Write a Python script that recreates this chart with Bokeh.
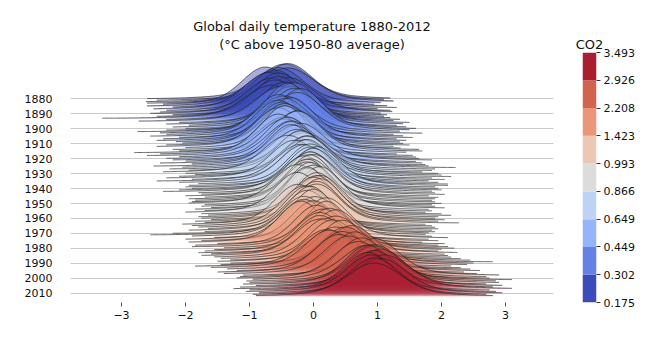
import numpy as np
from bokeh.plotting import figure
from bokeh.layouts import row
from bokeh.models import Range1d, FixedTicker, Title
from bokeh.embed import file_html
from bokeh.resources import INLINE

# ---------------- data ----------------
years = list(range(1880, 2013))

# location of each year's distribution (deg C above 1950-80 average)
mean = [
    -0.45, -0.40, -0.40, -0.55, -0.75, -0.65, -0.60, -0.70, -0.55, -0.40,
    -0.65, -0.55, -0.60, -0.65, -0.45, -0.50, -0.30, -0.35, -0.40, -0.30,
    -0.20, -0.25, -0.45, -0.50, -0.55, -0.45, -0.35, -0.55, -0.45, -0.50,
    -0.45, -0.45, -0.55, -0.45, -0.25, -0.25, -0.45, -0.55, -0.45, -0.40,
    -0.35, -0.20, -0.35, -0.30, -0.35, -0.25, -0.15, -0.20, -0.20, -0.40,
    -0.10, -0.10, -0.15, -0.30, -0.10, -0.20, -0.15, -0.05, 0.05, -0.05,
    0.00, -0.05, -0.10, -0.05, 0.00, -0.15, -0.05, -0.05, -0.10, -0.10,
    -0.25, -0.05, 0.00, 0.10, -0.10, -0.10, -0.25, 0.05, 0.10, 0.05,
    0.00, 0.10, 0.05, 0.05, -0.25, -0.15, -0.10, -0.05, -0.10, 0.00,
    0.02, -0.10, -0.15, 0.20, -0.15, 0.00, -0.20, 0.20, 0.05, 0.15,
    0.25, 0.35, 0.10, 0.35, 0.10, 0.10, 0.20, 0.30, 0.45, 0.35,
    0.60, 0.50, 0.20, 0.25, 0.45, 0.65, 0.40, 0.55, 0.95, 0.75,
    0.70, 0.85, 0.95, 0.95, 0.85, 1.05, 0.95, 1.10, 0.85, 0.90,
    1.05, 0.95, 0.95,
]

# spread (standard deviation of the central part) of each year's daily values
spread = [
    0.38, 0.36, 0.39, 0.37, 0.35, 0.38, 0.35, 0.36, 0.35, 0.38,
    0.37, 0.34, 0.36, 0.40, 0.35, 0.38, 0.33, 0.35, 0.31, 0.34,
    0.33, 0.35, 0.37, 0.36, 0.33, 0.35, 0.33, 0.34, 0.36, 0.33,
    0.33, 0.34, 0.34, 0.31, 0.34, 0.33, 0.37, 0.33, 0.36, 0.33,
    0.35, 0.36, 0.33, 0.35, 0.33, 0.36, 0.38, 0.35, 0.33, 0.36,
    0.35, 0.34, 0.36, 0.35, 0.33, 0.36, 0.35, 0.33, 0.34, 0.33,
    0.33, 0.35, 0.36, 0.32, 0.33, 0.33, 0.31, 0.33, 0.32, 0.33,
    0.34, 0.31, 0.32, 0.32, 0.32, 0.30, 0.33, 0.32, 0.33, 0.32,
    0.32, 0.32, 0.33, 0.34, 0.33, 0.33, 0.32, 0.31, 0.33, 0.31,
    0.36, 0.38, 0.33, 0.33, 0.33, 0.33, 0.32, 0.31, 0.33, 0.35,
    0.33, 0.33, 0.34, 0.36, 0.34, 0.36, 0.34, 0.34, 0.33, 0.38,
    0.35, 0.35, 0.36, 0.35, 0.35, 0.34, 0.35, 0.35, 0.36, 0.34,
    0.36, 0.38, 0.36, 0.36, 0.34, 0.36, 0.36, 0.39, 0.35, 0.36,
    0.38, 0.36, 0.40,
]

# coldest and warmest daily value of each year
low = [
    -2.60, -2.45, -2.62, -2.60, -2.35, -2.60, -2.20, -2.50, -2.30, -2.40,
    -2.55, -2.20, -2.45, -3.30, -2.30, -2.73, -2.10, -2.30, -1.95, -2.20,
    -2.00, -2.30, -2.75, -2.40, -2.30, -2.55, -2.10, -2.35, -2.45, -2.15,
    -2.05, -2.30, -2.45, -2.00, -2.20, -2.10, -2.80, -2.40, -2.60, -2.10,
    -2.30, -2.20, -2.00, -2.40, -1.90, -2.50, -2.05, -2.25, -1.95, -2.35,
    -2.00, -1.85, -2.10, -2.30, -1.90, -2.45, -2.10, -1.80, -1.95, -2.00,
    -1.90, -2.10, -2.35, -1.80, -1.75, -2.00, -1.70, -1.95, -1.85, -1.90,
    -1.95, -1.70, -1.75, -1.60, -1.85, -1.70, -2.00, -1.75, -1.65, -1.80,
    -1.75, -1.60, -1.85, -1.70, -2.05, -1.90, -1.80, -1.65, -1.95, -1.70,
    -2.20, -2.55, -1.90, -1.55, -2.00, -1.75, -1.95, -1.50, -1.85, -1.90,
    -1.40, -1.55, -1.70, -1.80, -1.60, -1.75, -1.55, -1.45, -1.30, -1.50,
    -1.30, -1.45, -1.85, -1.60, -1.35, -1.20, -1.50, -1.40, -1.10, -1.15,
    -1.20, -0.95, -1.05, -1.00, -1.10, -0.90, -1.15, -1.25, -1.00, -1.05,
    -0.85, -0.95, -0.90,
]
high = [
    1.20, 1.10, 1.25, 1.05, 0.95, 1.15, 1.30, 1.00, 1.20, 1.23,
    1.05, 1.15, 1.10, 1.20, 1.35, 1.25, 1.50, 1.40, 1.30, 1.45,
    1.60, 1.50, 1.35, 1.70, 1.25, 1.40, 1.55, 1.30, 1.45, 1.35,
    1.40, 1.50, 1.25, 1.36, 1.65, 1.70, 1.45, 1.30, 1.55, 1.60,
    1.65, 1.85, 1.60, 1.70, 1.75, 1.80, 2.22, 1.90, 1.85, 1.70,
    1.95, 2.00, 2.15, 1.85, 2.05, 1.80, 1.95, 2.10, 2.10, 1.90,
    1.95, 2.00, 1.85, 1.90, 2.05, 1.80, 1.95, 1.90, 1.85, 1.90,
    2.00, 1.85, 1.90, 2.05, 1.80, 1.85, 1.75, 2.00, 2.15, 1.95,
    1.90, 2.05, 1.95, 2.27, 1.75, 1.85, 1.90, 1.95, 1.85, 1.90,
    1.80, 1.75, 1.85, 2.10, 1.80, 1.95, 1.70, 2.05, 1.95, 2.10,
    2.20, 2.00, 1.95, 2.25, 2.05, 2.10, 2.15, 2.30, 2.45, 2.80,
    2.50, 2.40, 2.15, 2.30, 2.45, 2.60, 2.35, 2.55, 2.90, 2.70,
    2.75, 3.10, 2.85, 2.90, 2.70, 2.95, 2.80, 3.10, 2.75, 2.85,
    2.95, 2.70, 2.80,
]

# CO2 value of each year (colour)
co2 = [
    0.175, 0.19, 0.20, 0.21, 0.22, 0.22, 0.23, 0.24, 0.26, 0.26,
    0.27, 0.28, 0.29, 0.28, 0.29, 0.31, 0.32, 0.33, 0.35, 0.37,
    0.39, 0.40, 0.41, 0.43, 0.42, 0.43, 0.44, 0.44, 0.43, 0.44,
    0.46, 0.48, 0.50, 0.53, 0.51, 0.52, 0.56, 0.58, 0.60, 0.55,
    0.61, 0.58, 0.60, 0.63, 0.64, 0.66, 0.68, 0.70, 0.73, 0.76,
    0.74, 0.70, 0.67, 0.72, 0.77, 0.80, 0.83, 0.85, 0.84, 0.85,
    0.86, 0.87, 0.89, 0.90, 0.91, 0.90, 0.92, 0.93, 0.94, 0.95,
    0.96, 0.97, 0.975, 0.98, 0.985, 0.99, 0.99, 1.02, 1.05, 1.08,
    1.11, 1.14, 1.17, 1.20, 1.23, 1.26, 1.29, 1.32, 1.35, 1.38,
    1.40, 1.41, 1.42, 1.42, 1.45, 1.50, 1.56, 1.62, 1.68, 1.74,
    1.78, 1.82, 1.86, 1.90, 1.95, 2.00, 2.05, 2.10, 2.15, 2.20,
    2.25, 2.30, 2.36, 2.42, 2.48, 2.54, 2.60, 2.66, 2.72, 2.78,
    2.82, 2.86, 2.89, 2.92, 2.95, 3.05, 3.15, 3.25, 3.35, 3.40,
    3.45, 3.48, 3.493,
]

co2_edges = [0.175, 0.302, 0.449, 0.649, 0.866, 0.993, 1.423, 2.208, 2.926, 3.493]
co2_labels = ["0.175", "0.302", "0.449", "0.649", "0.866", "0.993", "1.423", "2.208", "2.926", "3.493"]
palette = ["#3c4bb9", "#6482e6", "#96b4fa", "#bed2f5", "#dcdcdc",
           "#ecc8b4", "#eb9678", "#d2644f", "#aa1e32"]

decade_ticks = list(range(1880, 2011, 10))
x_ticks = [-3, -2, -1, 0, 1, 2, 3]
x_tick_labels = ["\u22123", "\u22122", "\u22121", "0", "1", "2", "3"]

# ---------------- main ridgeline figure ----------------
FONT = "DejaVu Sans"
LAST = years[-1]
SCALE = 26.7   # ridge height (in year rows) per unit of density

p = figure(width=563, height=344, output_backend="svg", toolbar_location=None,
           x_range=Range1d(-3.797, 3.75), y_range=Range1d(-4.2, 163.0),
           min_border_left=70, min_border_right=10, min_border_top=52, min_border_bottom=42)
p.outline_line_color = None
p.background_fill_color = "white"
p.border_fill_color = "white"

t2 = Title(text="(\u00b0C above 1950-80 average)", align="center", text_font=FONT,
           text_font_size="13px", text_font_style="normal", text_color="#111111",
           offset=-2, standoff=2)
t1 = Title(text="Global daily temperature 1880-2012", align="center", text_font=FONT,
           text_font_size="13px", text_font_style="normal", text_color="#111111",
           offset=-2, standoff=0)
p.add_layout(t2, "above")
p.add_layout(t1, "above")

ytick_pos = [LAST - y for y in decade_ticks]
p.yaxis.ticker = FixedTicker(ticks=ytick_pos)
p.yaxis.major_label_overrides = {LAST - y: str(y) for y in decade_ticks}
p.yaxis.axis_line_color = None
p.yaxis.major_tick_line_color = None
p.yaxis.minor_tick_line_color = None
p.yaxis.major_label_standoff = 12
p.yaxis.major_label_text_font = FONT
p.yaxis.major_label_text_font_size = "11px"
p.yaxis.major_label_text_color = "#111111"

p.xaxis.ticker = FixedTicker(ticks=x_ticks)
p.xaxis.major_label_overrides = {t: l for t, l in zip(x_ticks, x_tick_labels)}
p.xaxis.axis_line_color = None
p.xaxis.major_tick_in = 0
p.xaxis.major_tick_out = 4
p.xaxis.major_tick_line_color = "#555555"
p.xaxis.minor_tick_line_color = None
p.xaxis.major_label_standoff = 4
p.xaxis.major_label_text_font = FONT
p.xaxis.major_label_text_font_size = "11px"
p.xaxis.major_label_text_color = "#111111"

p.xgrid.grid_line_color = None
p.ygrid.ticker = FixedTicker(ticks=ytick_pos)
p.ygrid.grid_line_color = "#c8c8c8"
p.ygrid.grid_line_width = 1.2

def colour_for(v):
    for i in range(len(palette)):
        if v <= co2_edges[i + 1]:
            return palette[i]
    return palette[-1]

def gauss(x, m, s):
    return np.exp(-0.5 * ((x - m) / s) ** 2) / (s * np.sqrt(2 * np.pi))

for yr, m, s, lo, hi, c in zip(years, mean, spread, low, high, co2):
    xs = np.linspace(lo, hi, 240)
    dens = 0.7 * gauss(xs, m, s) + 0.3 * gauss(xs, m, 2.3 * s)
    base = LAST - yr
    top = base + SCALE * dens
    p.varea(x=xs, y1=np.full_like(xs, base), y2=top, fill_color=colour_for(c), fill_alpha=0.45)
    p.line(x=xs, y=top, line_color="#222222", line_width=0.9, line_alpha=0.75)

# ---------------- colour bar (discrete CO2 bins) ----------------
nb = len(palette)
cbar = figure(width=95, height=344, output_backend="svg", toolbar_location=None,
              x_range=Range1d(0, 1), y_range=Range1d(0, nb),
              x_axis_location=None, y_axis_location="right",
              min_border_left=19, min_border_right=62, min_border_top=52, min_border_bottom=42)
cbar.outline_line_color = None
cbar.grid.grid_line_color = None
cbar.title.text = "CO2"
cbar.title.align = "center"
cbar.title.text_font = FONT
cbar.title.text_font_size = "13px"
cbar.title.text_font_style = "normal"
cbar.title.text_color = "#111111"
cbar.title.standoff = 2
cbar.quad(left=0, right=1, bottom=list(range(nb)), top=list(range(1, nb + 1)),
          fill_color=palette, line_color=None)
cbar.yaxis.ticker = FixedTicker(ticks=list(range(len(co2_edges))))
cbar.yaxis.major_label_overrides = {i: l for i, l in enumerate(co2_labels)}
cbar.yaxis.axis_line_color = None
cbar.yaxis.major_tick_in = 0
cbar.yaxis.major_tick_out = 4
cbar.yaxis.major_tick_line_color = "#333333"
cbar.yaxis.minor_tick_line_color = None
cbar.yaxis.major_label_standoff = 3
cbar.yaxis.major_label_text_font = FONT
cbar.yaxis.major_label_text_font_size = "11px"
cbar.yaxis.major_label_text_color = "#111111"

layout = row(p, cbar)
open("out.html", "w").write(file_html(layout, INLINE))
